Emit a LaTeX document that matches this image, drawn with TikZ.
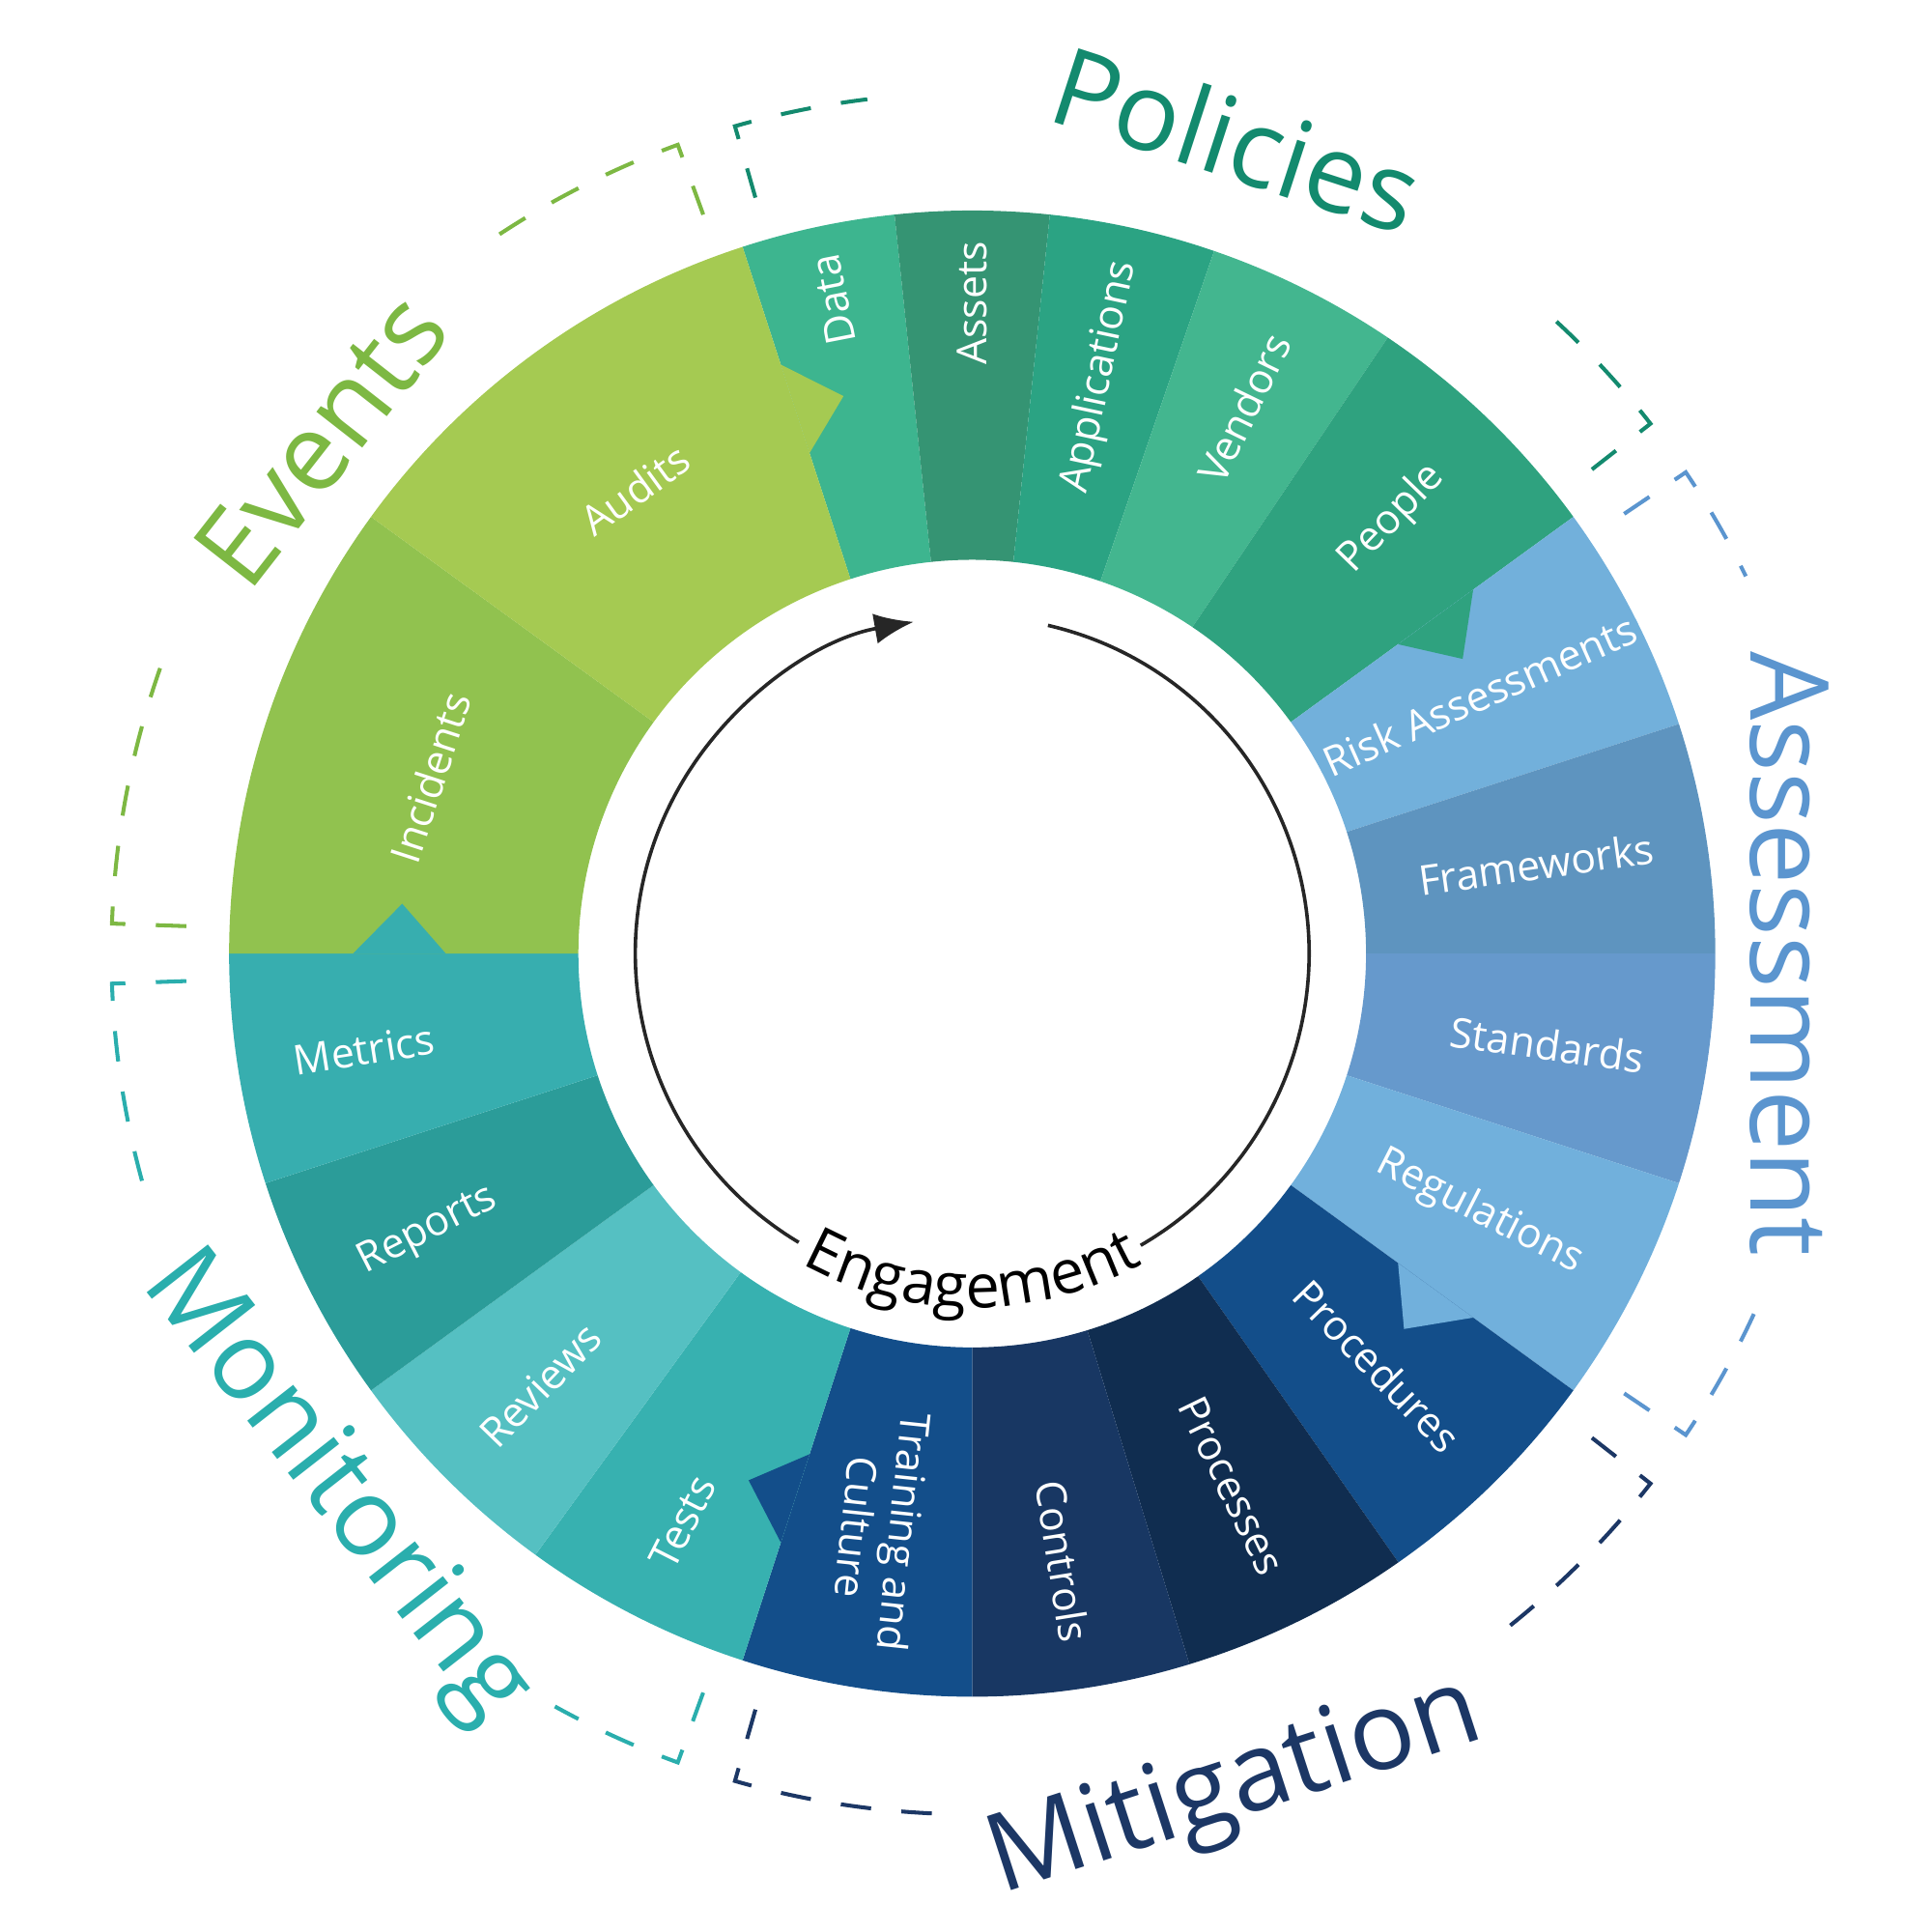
\documentclass[tikz,border=0pt]{standalone}
\usepackage{fontspec}
\setmainfont{Open Sans}
\usetikzlibrary{decorations.text, arrows.meta}

\definecolor{cData}{HTML}{3DB58F}
\definecolor{cAssets}{HTML}{359473}
\definecolor{cAppl}{HTML}{2BA383}
\definecolor{cVend}{HTML}{43B68F}
\definecolor{cPeople}{HTML}{2FA27F}
\definecolor{cRisk}{HTML}{72B0DB}
\definecolor{cFrame}{HTML}{5E94BF}
\definecolor{cStand}{HTML}{6699CC}
\definecolor{cReg}{HTML}{71B0DC}
\definecolor{cProc}{HTML}{134E8A}
\definecolor{cProcs}{HTML}{102D50}
\definecolor{cCtrl}{HTML}{183763}
\definecolor{cTrain}{HTML}{134E8A}
\definecolor{cTests}{HTML}{37B1B0}
\definecolor{cRev}{HTML}{55C0C2}
\definecolor{cRep}{HTML}{2B9C99}
\definecolor{cMetr}{HTML}{37AEAF}
\definecolor{cInc}{HTML}{91C24F}
\definecolor{cAud}{HTML}{A5CA52}
\definecolor{gPol}{HTML}{138A6E}
\definecolor{gEv}{HTML}{7DB843}
\definecolor{gAss}{HTML}{5B95CF}
\definecolor{gMit}{HTML}{1C3765}
\definecolor{gMon}{HTML}{2AAEAD}

\begin{document}
\begin{tikzpicture}[
    seglabel/.style={text=white, font=\fontsize{9.5}{11}\selectfont, align=center},
    grouplabel/.style={font=\fontsize{25}{25}\selectfont},
    bracket/.style={dash pattern=on 7pt off 7pt, line width=0.9pt}
  ]
  \useasboundingbox (-7.85,-7.90) rectangle (7.75,7.70);

  % ring segments
  \foreach \a/\b/\col/\nm/\txt/\r/\rot in {
      108/96/cData/data/Data/5.4/101,
      96/84/cAssets/assets/Assets/5.25/90,
      84/71/cAppl/appl/Applications/4.77/78,
      71/56/cVend/vend/Vendors/4.92/64,
      56/36/cPeople/people/People/4.88/46,
      36/18/cRisk/risk/Risk Assessments/4.6/24,
      18/0/cFrame/frame/Frameworks/4.61/8,
      0/-18/cStand/stand/Standards/4.7/-8,
      -18/-36/cReg/reg/Regulations/4.6/-27,
      -36/-55/cProc/proc/Procedures/4.67/-46,
      -55/-73/cProcs/procs/Processes/4.78/-64,
      -73/-90/cCtrl/ctrl/Controls/4.96/-81,
      -90/-108/cTrain/train/{Training and\\Culture}/4.71/-96,
      -108/-126/cTests/tests/Tests/5.15/63,
      -126/-144/cRev/rev/Reviews/4.93/46,
      -144/-162/cRep/rep/Reports/4.93/27,
      -162/-180/cMetr/metr/Metrics/4.97/9,
      180/144/cInc/inc/Incidents/4.6/72,
      144/108/cAud/aud/Audits/4.63/36}{
    \fill[\col] (\a:3.18) arc[start angle=\a, end angle=\b, radius=3.18]
      -- (\b:6.0) arc[start angle=\b, end angle=\a, radius=6.0] -- cycle;
    \node[seglabel, rotate=\rot] (\nm) at ({(\a+\b)/2}:\r) {\txt};
  }

  % notches between groups
  \foreach \b/\col in {108/cAud, 36/cPeople, -36/cReg, -108/cTrain, 180/cMetr}{
    \fill[\col] (\b:4.25) -- (\b:5.0) -- ({\b-5}:4.62) -- cycle;
  }

  % dashed brackets
  \foreach \t/\e/\col in {178/160/gEv, 110/124/gEv, 106/97/gPol, 38/48/gPol,
      34/26/gAss, -34/-24/gAss, -38/-53/gMit, -106/-92/gMit,
      -110/-119/gMon, -178/-164/gMon}{
    \draw[bracket, \col] (\t:6.35) -- (\t:6.95) arc[start angle=\t, end angle=\e, radius=6.95];
  }

  % group labels
  \node[grouplabel, gPol, rotate=-18] (policies) at (72:6.92) {Policies};
  \node[grouplabel, gEv, rotate=52] (events) at (141.7:6.7) {Events};
  \node[grouplabel, gAss, rotate=-90] (assessment) at (0:6.6) {Assessment};
  \node[grouplabel, gMon, rotate=-52] (monitoring) at (-140:6.72) {Monitoring};
  \node[grouplabel, gMit, rotate=18] (mitigation) at (-72.5:7.08) {Mitigation};

  % engagement cycle
  \draw[line width=0.8pt, black!85] (77:2.72) arc[start angle=77, end angle=-60, radius=2.72];
  \draw[line width=0.8pt, black!85, -{Latex[length=9pt, width=7pt]}]
    (-121:2.72) arc[start angle=239, end angle=100, radius=2.72];
  \path[decorate, decoration={text along path, text align=center,
      text={|\fontsize{14}{14}\selectfont|Engagement}}]
    (-123:2.86) arc[start angle=-123, end angle=-57, radius=2.86];
\end{tikzpicture}
\end{document}
